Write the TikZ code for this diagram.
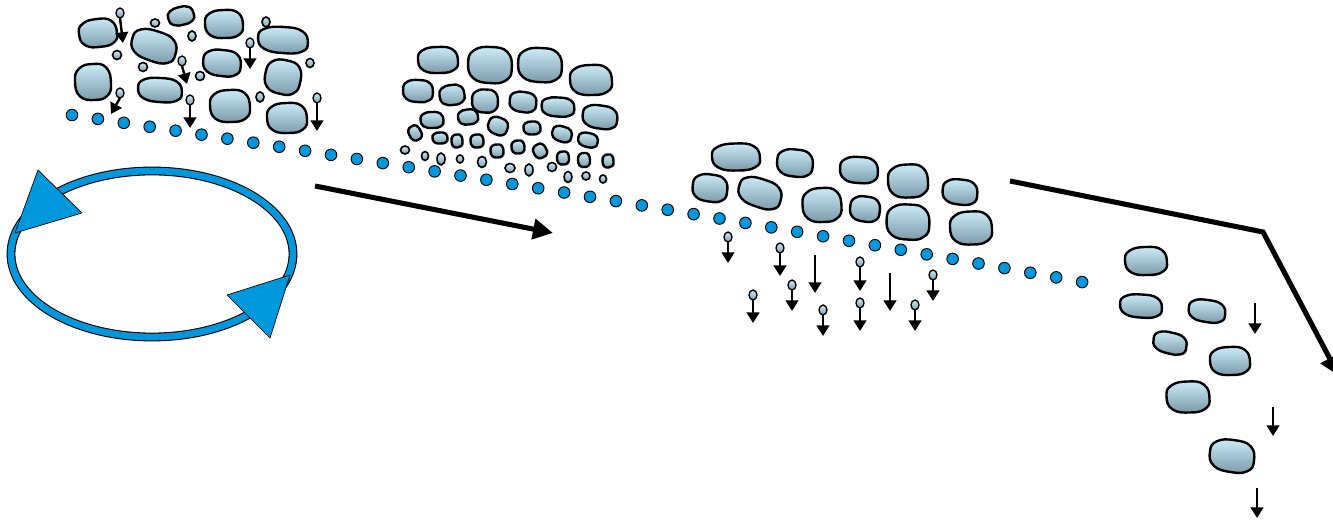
\documentclass[tikz,border=0pt]{standalone}
\usetikzlibrary{arrows.meta}
\definecolor{dotblue}{RGB}{0,152,220}
\definecolor{blobtop}{RGB}{204,236,248}
\definecolor{blobbot}{RGB}{122,154,170}
\tikzset{
  blobstyle/.style={draw=black,line width=1.8pt,top color=blobtop,bottom color=blobbot,line join=round},
  smallblob/.style={draw=black,line width=1.2pt,top color=blobtop,bottom color=blobbot},
  dotstyle/.style={fill=dotblue,draw=black,line width=0.7pt},
  pinarrow/.style={draw=black,line width=1.8pt,-{Triangle[length=8pt,width=9.5pt]}},
  bigarrow/.style={draw=black,line width=3.8pt,-{Triangle[length=15pt,width=15pt]}},
  tri/.style={fill=dotblue,draw=black,line width=0.5pt,line join=round}
}
% blob: cx cy halfwidth halfheight rotation
\newcommand\blob[5]{%
  \draw[blobstyle,shift={(#1,#2)},rotate=#5] plot[smooth cycle,tension=0.8] coordinates
   {({#3},{0.08*#4}) ({0.8*#3},{0.76*#4}) ({0.1*#3},{#4}) ({-0.72*#3},{0.8*#4})
    ({-#3},{-0.03*#4}) ({-0.78*#3},{-0.74*#4}) ({-0.02*#3},{-#4}) ({0.74*#3},{-0.8*#4})};}
\newcommand\peb[4]{%
  \draw[smallblob,shift={(#1,#2)}] (0,0) ellipse [x radius=#3, y radius=#4];}
% pin: x1 y1 x2 y2
\newcommand\pin[4]{%
  \draw[smallblob,line width=1pt] (#1,#2) ellipse [x radius=4, y radius=5];
  \draw[pinarrow] (#1,{#2+5}) -- (#3,#4);}
\newcommand\arr[3]{\draw[pinarrow] (#1,#2) -- (#1,#3);}
\begin{document}
\begin{tikzpicture}[x=0.75pt,y=-0.75pt]
\useasboundingbox (0,0) rectangle (1333,523);
\clip (0,0) rectangle (1333,523);
\fill[white] (0,0) rectangle (1333,523);

% ---------- cycle ----------
\draw[black,line width=6.6pt] (152,254) ellipse [x radius=141, y radius=83];
\draw[dotblue,line width=5pt] (152,254) ellipse [x radius=141, y radius=83];
\path[tri] (38,170) -- (82,213) -- (15,233) -- cycle;
\path[tri] (227,295) -- (290,275) -- (270,338) -- cycle;

% ---------- big arrows ----------
\coordinate (a1s) at (315,186);
\coordinate (a1e) at (553,233);
\draw[bigarrow] (a1s) -- (a1e);
\coordinate (a2s) at (1010,181);
\coordinate (a2m) at (1263,232);
\coordinate (a2e) at (1339,376);
\draw[bigarrow,line join=miter] (a2s) -- (a2m) -- (a2e);

% ---------- dotted line ----------
\foreach \i in {0,...,39}{
  \pgfmathsetmacro\xx{72+25.9*\i}
  \pgfmathsetmacro\yy{115+0.15*(\xx-72)+0.000017*(\xx-72)*(\xx-72)}
  \draw[dotstyle] (\xx,\yy) circle (5.8);
}

% ---------- region 1 ----------
\blob{98}{33}{19}{14}{5}
\blob{154}{46}{23}{15}{-20}
\blob{181}{16}{13}{9}{12}
\blob{224}{24}{19}{14}{0}
\blob{283}{40}{25}{13}{-5}
\blob{222}{63}{19}{13}{-8}
\blob{283}{77}{18}{17}{-15}
\blob{93}{82}{18}{18}{0}
\blob{160}{90}{22}{12}{-5}
\blob{230}{106}{20}{16}{0}
\blob{287}{118}{20}{15}{0}
\peb{155}{23}{4.5}{4}
\peb{192}{36}{4}{5}
\peb{266}{22}{4}{5}
\peb{117}{55}{4.5}{4.5}
\peb{143}{67}{4.5}{4.5}
\peb{200}{76}{4.5}{4.5}
\peb{310}{63}{4}{4.5}
\peb{260}{97}{4}{5}
\pin{120}{13}{123}{43}
\pin{250}{43}{250}{69}
\pin{182}{61}{187}{84}
\pin{120}{93}{111}{114}
\pin{190}{100}{190}{128}
\pin{317}{98}{317}{131}

% ---------- region 2 ----------
\blob{438}{60}{20}{13}{0}
\blob{490}{65}{22}{18}{-5}
\blob{540}{65}{22}{17}{-5}
\blob{591}{80}{21}{15}{0}
\blob{418}{91}{15}{11}{-5}
\blob{452}{95}{12.5}{10}{5}
\blob{485}{101}{13}{11.5}{-5}
\blob{523}{102}{13.5}{10}{-10}
\blob{558}{107}{16.5}{9.5}{-5}
\blob{600}{117}{17.5}{11.5}{-10}
\blob{432}{120}{11.5}{8}{0}
\blob{468}{117}{10}{7.5}{5}
\blob{498}{126}{10}{8.5}{-25}
\blob{532}{128}{8.5}{6.5}{0}
\blob{562}{134}{10}{7.5}{-20}
\blob{588}{140}{10}{7}{-15}
\blob{415}{133}{6}{7.5}{25}
\blob{440}{138}{7.5}{5.5}{0}
\blob{457}{141}{5.5}{6.5}{0}
\blob{477}{141}{6.5}{6.5}{0}
\blob{497}{151}{6.5}{6.5}{0}
\blob{518}{147}{6.5}{6.5}{0}
\blob{540}{151}{6.5}{7}{25}
\blob{563}{158}{6}{6.5}{0}
\blob{584}{160}{6}{7}{0}
\blob{608}{161}{5.5}{6.5}{0}
\peb{405}{150}{4.5}{4}
\peb{425}{156}{3.5}{4.5}
\peb{441}{159}{4}{6}
\peb{460}{159}{3.5}{4}
\peb{482}{162}{4.5}{5.5}
\peb{510}{168}{5}{4.5}
\peb{529}{170}{4}{6}
\peb{552}{167}{4.5}{4.5}
\peb{568}{177}{4}{5.5}
\peb{586}{176}{4}{4}
\peb{603}{179}{3.5}{4}

% ---------- region 3 ----------
\blob{736}{157}{24}{13.5}{0}
\blob{795}{163}{18}{13.5}{-8}
\blob{859}{170}{19}{13}{-5}
\blob{908}{181}{20}{16.5}{0}
\blob{960}{192}{17.5}{12.5}{-8}
\blob{710}{188}{17.5}{13.5}{-10}
\blob{760}{193}{22}{14}{-20}
\blob{822}{205}{19.5}{17}{0}
\blob{865}{209}{15}{12.5}{-10}
\blob{908}{222}{21.5}{17.5}{-5}
\blob{971}{228}{21}{16.5}{0}
\pin{728}{237}{728}{263}
\pin{780}{248}{780}{276}
\arr{815}{255}{293}
\pin{860}{262}{860}{291}
\arr{890}{273}{311}
\pin{933}{275}{933}{301}
\pin{792}{285}{792}{311}
\pin{753}{295}{753}{323}
\pin{823}{310}{823}{336}
\pin{860}{303}{860}{331}
\pin{915}{305}{915}{331}

% ---------- region 4 ----------
\blob{1146}{261}{21}{14}{0}
\blob{1141}{306}{21}{11.5}{-5}
\blob{1207}{311}{18.5}{11}{-10}
\blob{1170}{343}{17}{10.5}{-15}
\blob{1230}{361}{20}{14}{0}
\blob{1188}{397}{21.5}{15.5}{0}
\blob{1232}{456}{22.5}{16}{-10}
\arr{1255}{303}{334}
\arr{1273}{407}{436}
\arr{1257}{488}{518}
\end{tikzpicture}
\end{document}
